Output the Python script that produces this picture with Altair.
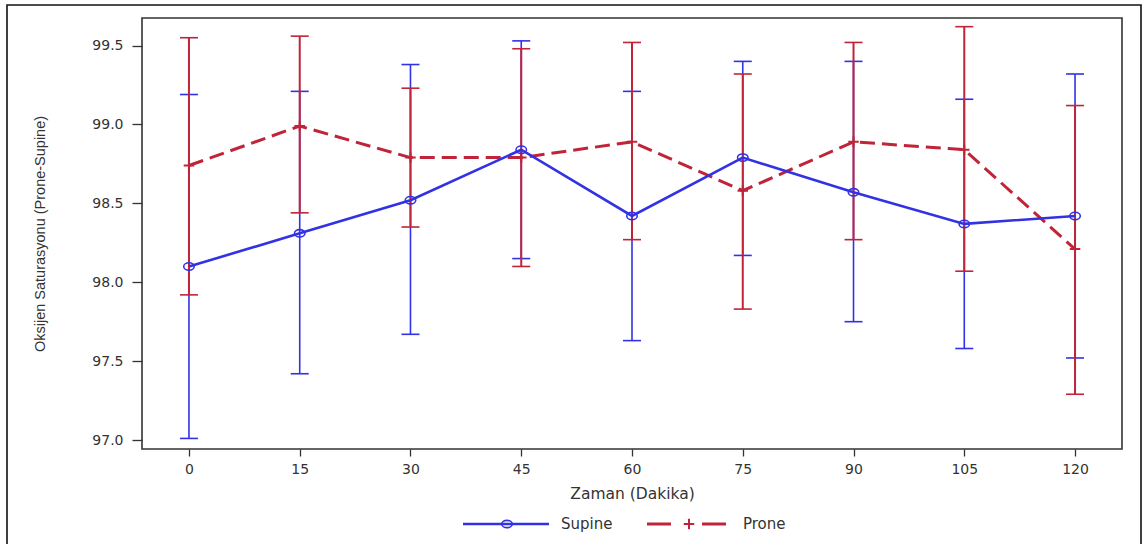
import altair as alt
import pandas as pd

# ---- data ----
times = [0, 15, 30, 45, 60, 75, 90, 105, 120]
supine_mean = [98.10, 98.31, 98.52, 98.84, 98.42, 98.79, 98.57, 98.37, 98.42]
supine_low = [97.01, 97.42, 97.67, 98.15, 97.63, 98.17, 97.75, 97.58, 97.52]
supine_high = [99.19, 99.21, 99.38, 99.53, 99.21, 99.40, 99.40, 99.16, 99.32]
prone_mean = [98.74, 98.99, 98.79, 98.79, 98.89, 98.58, 98.89, 98.84, 98.21]
prone_low = [97.92, 98.44, 98.35, 98.10, 98.27, 97.83, 98.27, 98.07, 97.29]
prone_high = [99.55, 99.56, 99.23, 99.48, 99.52, 99.32, 99.52, 99.62, 99.12]
y_ticks = [97.0, 97.5, 98.0, 98.5, 99.0, 99.5]
groups = ["Supine", "Prone"]

BLUE = "#3232e4"
RED = "#c02438"
FONT = "DejaVu Sans"

df_s = pd.DataFrame({"t": times, "m": supine_mean, "lo": supine_low, "hi": supine_high, "g": "Supine"})
df_p = pd.DataFrame({"t": times, "m": prone_mean, "lo": prone_low, "hi": prone_high, "g": "Prone"})

W, H = 980, 431

xs = alt.Scale(domain=[-6.36, 126.36], nice=False, zero=False)
ys = alt.Scale(domain=[96.943, 99.675], nice=False, zero=False)

x_axis = alt.Axis(values=times, title="Zaman (Dakika)", domain=False, grid=False,
                  tickSize=7, tickColor="#333", tickWidth=1.3,
                  labelFont=FONT, labelFontSize=14, labelColor="#333", labelPadding=6,
                  titleFont=FONT, titleFontSize=15.5, titleFontWeight="normal", titleColor="#333",
                  titleX=W / 2, titleY=44, titleBaseline="middle", titleAlign="center")
y_axis = alt.Axis(values=y_ticks, format=".1f", title="Oksijen Saturasyonu (Prone-Supine)",
                  domain=False, grid=False, tickSize=10, tickColor="#333", tickWidth=1.3,
                  labelFont=FONT, labelFontSize=14, labelColor="#333", labelPadding=9,
                  titleFont="Liberation Sans", titleFontSize=14.5, titleFontWeight="normal",
                  titleColor="#333", titleAngle=270, titleX=-102, titleY=H / 2,
                  titleAlign="center", titleBaseline="middle")

X = alt.X("t:Q", scale=xs, axis=x_axis)


def err_layers(df, color, sw):
    base = alt.Chart(df)
    bars = base.mark_rule(color=color, strokeWidth=sw).encode(
        x=X, y=alt.Y("lo:Q", scale=ys, axis=y_axis), y2="hi:Q")
    cap_shape = "M-1,0L1,0"
    lo_cap = base.mark_point(shape=cap_shape, size=324, filled=False, color=color,
                             strokeWidth=1.6, opacity=1).encode(x=X, y=alt.Y("lo:Q", scale=ys, axis=y_axis))
    hi_cap = base.mark_point(shape=cap_shape, size=324, filled=False, color=color,
                             strokeWidth=1.6, opacity=1).encode(x=X, y=alt.Y("hi:Q", scale=ys, axis=y_axis))
    return [bars, lo_cap, hi_cap]


ellipse = "M-1,0A1,0.7,0,1,0,1,0A1,0.7,0,1,0,-1,0Z"
plus = "M-1,0L1,0M0,-1L0,1"

prone_line = alt.Chart(df_p).mark_line(color=RED, strokeWidth=3, strokeDash=[15, 7]).encode(
    x=X, y=alt.Y("m:Q", scale=ys, axis=y_axis))
prone_pts = alt.Chart(df_p).mark_point(shape=plus, size=110, filled=False, color=RED,
                                       strokeWidth=2, opacity=1).encode(
    x=X, y=alt.Y("m:Q", scale=ys, axis=y_axis))
supine_line = alt.Chart(df_s).mark_line(color=BLUE, strokeWidth=2.6).encode(
    x=X, y=alt.Y("m:Q", scale=ys, axis=y_axis))
supine_pts = alt.Chart(df_s).mark_point(shape=ellipse, size=110, filled=False, color=BLUE,
                                        strokeWidth=1.6, opacity=1).encode(
    x=X, y=alt.Y("m:Q", scale=ys, axis=y_axis))

# ---- manual legend & outer frame (decoration) ----
one = pd.DataFrame({"k": [0]})
LY = 506
leg = [
    alt.Chart(one).mark_rule(color=BLUE, strokeWidth=2.6).encode(
        x=alt.value(321), x2=alt.value(407), y=alt.value(LY)),
    alt.Chart(one).mark_point(shape=ellipse, size=110, filled=False, color=BLUE,
                              strokeWidth=1.6, opacity=1).encode(x=alt.value(365), y=alt.value(LY)),
    alt.Chart(one).mark_text(text=groups[0], font=FONT, fontSize=15, color="#333",
                             align="left", baseline="middle").encode(x=alt.value(419), y=alt.value(LY)),
    alt.Chart(one).mark_rule(color=RED, strokeWidth=3, strokeDash=[24, 31]).encode(
        x=alt.value(505), x2=alt.value(584), y=alt.value(LY)),
    alt.Chart(one).mark_point(shape=plus, size=110, filled=False, color=RED,
                              strokeWidth=2, opacity=1).encode(x=alt.value(547), y=alt.value(LY)),
    alt.Chart(one).mark_text(text=groups[1], font=FONT, fontSize=15, color="#333",
                             align="left", baseline="middle").encode(x=alt.value(601), y=alt.value(LY)),
    alt.Chart(one).mark_rect(fillOpacity=0, stroke="#111", strokeWidth=1.6).encode(
        x=alt.value(-135), x2=alt.value(999), y=alt.value(-13), y2=alt.value(540)),
]

layers = (err_layers(df_s, BLUE, 1.6) + err_layers(df_p, RED, 2.0)
          + [prone_line, prone_pts, supine_line, supine_pts] + leg)

chart = alt.layer(*layers).properties(
    width=W, height=H,
    padding={"left": 142, "top": 18, "right": 22, "bottom": 95},
    autosize=alt.AutoSizeParams(type="none"),
).configure(background="white").configure_view(stroke="#333", strokeWidth=1.6)

chart.save("out.html", embed_options={"renderer": "svg", "actions": False})
